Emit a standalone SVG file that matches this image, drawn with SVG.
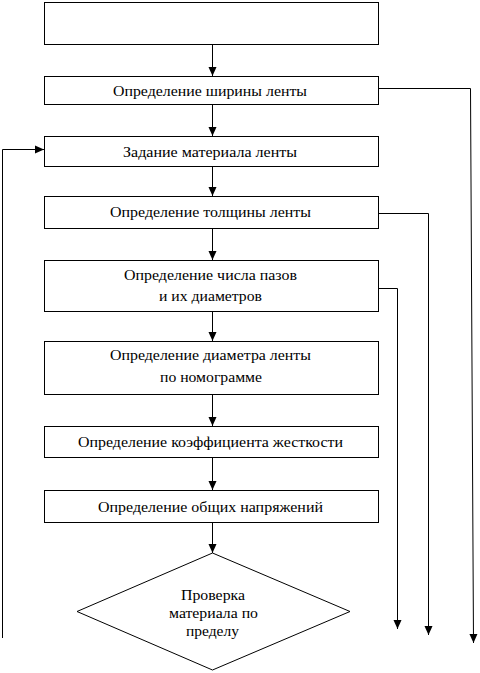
<svg xmlns="http://www.w3.org/2000/svg" width="480" height="673" viewBox="0 0 480 673">
<style>
.box{fill:#fff;stroke:#000;stroke-width:1}
.t{font-family:"Liberation Serif","DejaVu Serif",serif;font-size:15px;fill:#000;text-anchor:middle}
.c{fill:none;stroke:#000;stroke-width:1}
</style>
<defs>
<marker id="ah" markerUnits="userSpaceOnUse" markerWidth="9" markerHeight="9" viewBox="0 0 9 9" refX="9" refY="4.5" orient="auto">
<path d="M0,0.5 L9,4.5 L0,8.5 Z" fill="#000"/>
</marker>
</defs>
<rect width="480" height="673" fill="#fff"/>
<g id="connectors">
<line class="c" x1="212.5" y1="42" x2="212.5" y2="76" marker-end="url(#ah)"/>
<line class="c" x1="212.5" y1="104" x2="212.5" y2="136" marker-end="url(#ah)"/>
<line class="c" x1="212.5" y1="166" x2="212.5" y2="196" marker-end="url(#ah)"/>
<line class="c" x1="212.5" y1="228" x2="212.5" y2="260" marker-end="url(#ah)"/>
<line class="c" x1="212.5" y1="311" x2="212.5" y2="341" marker-end="url(#ah)"/>
<line class="c" x1="212.5" y1="394" x2="212.5" y2="426" marker-end="url(#ah)"/>
<line class="c" x1="212.5" y1="457" x2="212.5" y2="490" marker-end="url(#ah)"/>
<line class="c" x1="212.5" y1="522" x2="212.5" y2="553" marker-end="url(#ah)"/>
<path class="c" d="M2.5,638 V149.5 H44" marker-end="url(#ah)"/>
<path class="c" d="M378.5,88.5 H470.5 L473.5,643" marker-end="url(#ah)"/>
<path class="c" d="M378.5,213.5 H428.5 V635" marker-end="url(#ah)"/>
<path class="c" d="M378.5,288.5 H397.5 V629" marker-end="url(#ah)"/>
</g>
<g id="n1"><rect class="box" x="44.5" y="2.5" width="334" height="42"/></g>
<g id="n2"><rect class="box" x="44.5" y="76.5" width="334" height="28"/>
<text class="t" x="210" y="96" textLength="194" lengthAdjust="spacingAndGlyphs">Определение ширины ленты</text></g>
<g id="n3"><rect class="box" x="44.5" y="136.5" width="334" height="30"/>
<text class="t" x="210" y="157" textLength="174" lengthAdjust="spacingAndGlyphs">Задание материала ленты</text></g>
<g id="n4"><rect class="box" x="44.5" y="196.5" width="334" height="32"/>
<text class="t" x="210.5" y="217" textLength="201" lengthAdjust="spacingAndGlyphs">Определение толщины ленты</text></g>
<g id="n5"><rect class="box" x="44.5" y="260.5" width="334" height="51"/>
<text class="t" x="210.5" y="280" textLength="173" lengthAdjust="spacingAndGlyphs">Определение числа пазов</text>
<text class="t" x="210.5" y="301" textLength="103" lengthAdjust="spacingAndGlyphs">и их диаметров</text></g>
<g id="n6"><rect class="box" x="44.5" y="341.5" width="334" height="53"/>
<text class="t" x="210.5" y="360" textLength="201" lengthAdjust="spacingAndGlyphs">Определение диаметра ленты</text>
<text class="t" x="211" y="382" textLength="102" lengthAdjust="spacingAndGlyphs">по номограмме</text></g>
<g id="n7"><rect class="box" x="44.5" y="426.5" width="334" height="31"/>
<text class="t" x="210.5" y="447" textLength="265" lengthAdjust="spacingAndGlyphs">Определение коэффициента жесткости</text></g>
<g id="n8"><rect class="box" x="44.5" y="490.5" width="334" height="32"/>
<text class="t" x="210.5" y="512" textLength="225" lengthAdjust="spacingAndGlyphs">Определение общих напряжений</text></g>
<g id="n9"><polygon class="box" points="212.5,553 350,611.5 212.5,670 77,611.5"/>
<text class="t" x="213" y="600" textLength="64" lengthAdjust="spacingAndGlyphs">Проверка</text>
<text class="t" x="213.5" y="618" textLength="89" lengthAdjust="spacingAndGlyphs">материала по</text>
<text class="t" x="212.5" y="636" textLength="53" lengthAdjust="spacingAndGlyphs">пределу</text></g>
</svg>
